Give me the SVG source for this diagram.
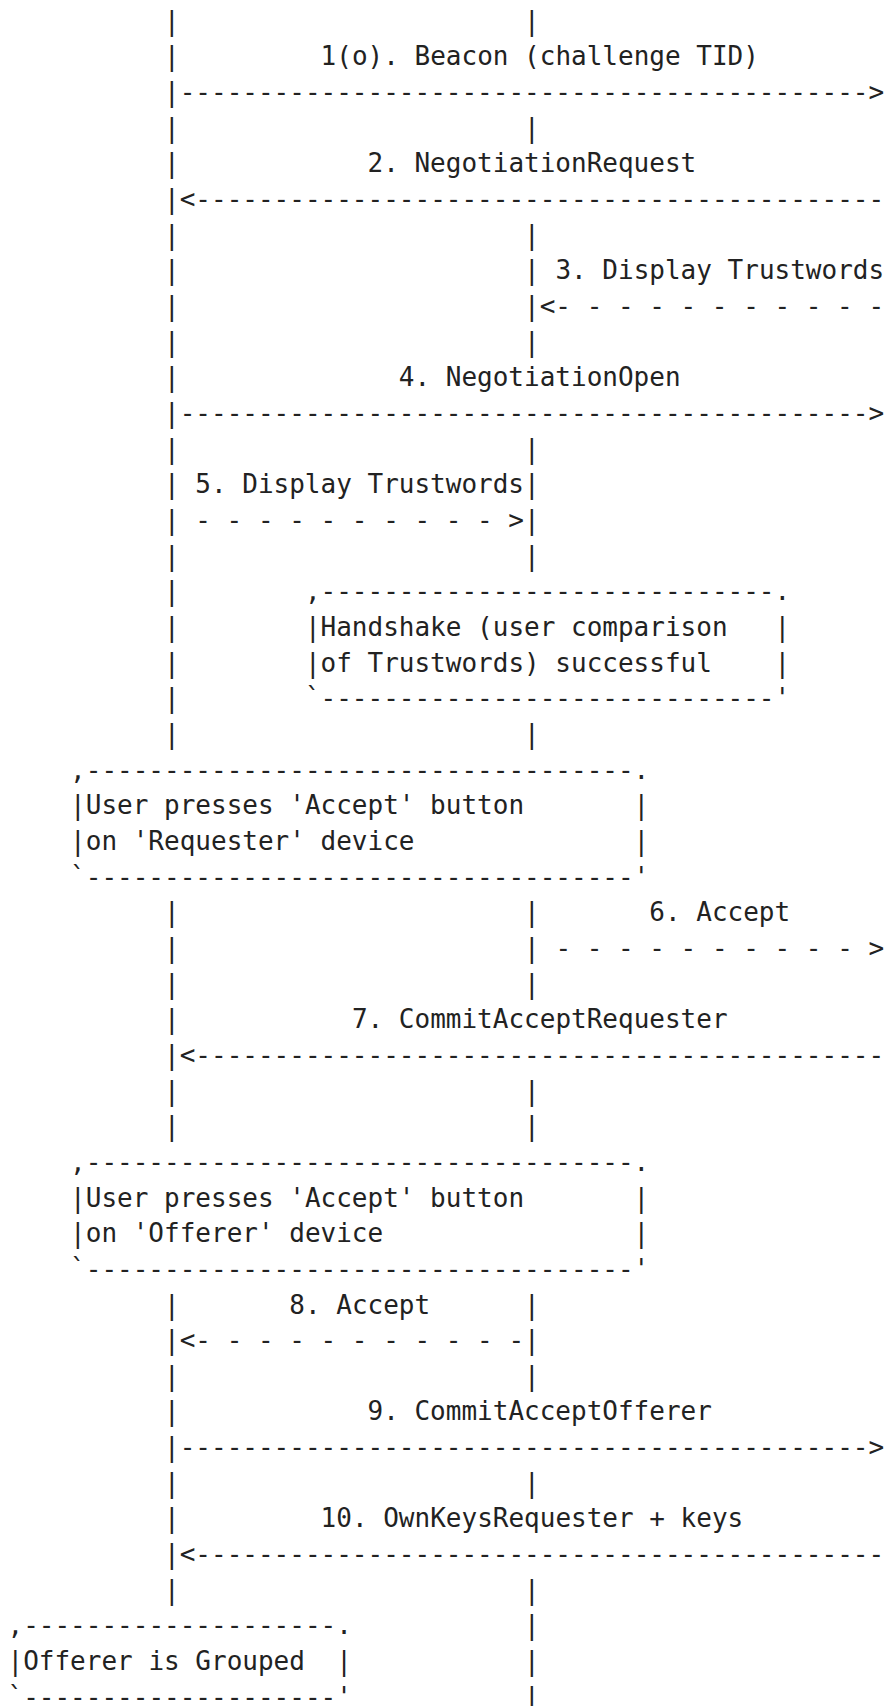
<svg xmlns="http://www.w3.org/2000/svg" width="885" height="1706" viewBox="0 0 885 1706" xml:space="preserve">
  <style>
    text { font-family: "DejaVu Sans Mono", "Liberation Mono", monospace; font-size: 26px; fill: #222; white-space: pre; }
  </style>
  <rect width="885" height="1706" fill="#fff"/>

  <!-- Requester lifeline (column 10) -->
  <g id="lifeline-requester">
    <text x="164.0" y="29.7">|</text>
    <text x="164.0" y="65.4">|</text>
    <text x="164.0" y="101.0">|</text>
    <text x="164.0" y="136.7">|</text>
    <text x="164.0" y="172.3">|</text>
    <text x="164.0" y="208.0">|</text>
    <text x="164.0" y="243.7">|</text>
    <text x="164.0" y="279.3">|</text>
    <text x="164.0" y="315.0">|</text>
    <text x="164.0" y="350.6">|</text>
    <text x="164.0" y="386.3">|</text>
    <text x="164.0" y="422.0">|</text>
    <text x="164.0" y="457.6">|</text>
    <text x="164.0" y="493.3">|</text>
    <text x="164.0" y="528.9">|</text>
    <text x="164.0" y="564.6">|</text>
    <text x="164.0" y="600.3">|</text>
    <text x="164.0" y="635.9">|</text>
    <text x="164.0" y="671.6">|</text>
    <text x="164.0" y="707.2">|</text>
    <text x="164.0" y="742.9">|</text>
    <text x="164.0" y="921.2">|</text>
    <text x="164.0" y="956.9">|</text>
    <text x="164.0" y="992.5">|</text>
    <text x="164.0" y="1028.2">|</text>
    <text x="164.0" y="1063.8">|</text>
    <text x="164.0" y="1099.5">|</text>
    <text x="164.0" y="1135.2">|</text>
    <text x="164.0" y="1313.5">|</text>
    <text x="164.0" y="1349.1">|</text>
    <text x="164.0" y="1384.8">|</text>
    <text x="164.0" y="1420.4">|</text>
    <text x="164.0" y="1456.1">|</text>
    <text x="164.0" y="1491.8">|</text>
    <text x="164.0" y="1527.4">|</text>
    <text x="164.0" y="1563.1">|</text>
    <text x="164.0" y="1598.7">|</text>
  </g>

  <!-- Offerer lifeline (column 33) -->
  <g id="lifeline-offerer">
    <text x="524.1" y="29.7">|</text>
    <text x="524.1" y="136.7">|</text>
    <text x="524.1" y="243.7">|</text>
    <text x="524.1" y="279.3">|</text>
    <text x="524.1" y="315.0">|</text>
    <text x="524.1" y="350.6">|</text>
    <text x="524.1" y="457.6">|</text>
    <text x="524.1" y="493.3">|</text>
    <text x="524.1" y="528.9">|</text>
    <text x="524.1" y="564.6">|</text>
    <text x="524.1" y="742.9">|</text>
    <text x="524.1" y="921.2">|</text>
    <text x="524.1" y="956.9">|</text>
    <text x="524.1" y="992.5">|</text>
    <text x="524.1" y="1099.5">|</text>
    <text x="524.1" y="1135.2">|</text>
    <text x="524.1" y="1313.5">|</text>
    <text x="524.1" y="1349.1">|</text>
    <text x="524.1" y="1384.8">|</text>
    <text x="524.1" y="1491.8">|</text>
    <text x="524.1" y="1598.7">|</text>
    <text x="524.1" y="1634.4">|</text>
    <text x="524.1" y="1670.1">|</text>
    <text x="524.1" y="1705.7">|</text>
  </g>

  <!-- Messages: labels and dashed arrows -->
  <g id="connectors">
    <g id="msg-1">
      <text x="320.6" y="65.4">1(o). Beacon (challenge TID)</text>
      <text x="179.7" y="101.0">--------------------------------------------&gt;</text>
    </g>
    <g id="msg-2">
      <text x="367.5" y="172.3">2. NegotiationRequest</text>
      <text x="179.7" y="208.0">&lt;--------------------------------------------</text>
    </g>
    <g id="msg-3">
      <text x="555.4" y="279.3">3. Display Trustwords</text>
      <text x="539.7" y="315.0">&lt;- - - - - - - - - - -</text>
    </g>
    <g id="msg-4">
      <text x="398.8" y="386.3">4. NegotiationOpen</text>
      <text x="179.7" y="422.0">--------------------------------------------&gt;</text>
    </g>
    <g id="msg-5">
      <text x="195.3" y="493.3">5. Display Trustwords</text>
      <text x="195.3" y="528.9">- - - - - - - - - - &gt;</text>
    </g>
    <g id="msg-6">
      <text x="649.3" y="921.2">6. Accept</text>
      <text x="555.4" y="956.9">- - - - - - - - - - &gt;</text>
    </g>
    <g id="msg-7">
      <text x="351.9" y="1028.2">7. CommitAcceptRequester</text>
      <text x="179.7" y="1063.8">&lt;--------------------------------------------</text>
    </g>
    <g id="msg-8">
      <text x="289.3" y="1313.5">8. Accept</text>
      <text x="179.7" y="1349.1">&lt;- - - - - - - - - - -</text>
    </g>
    <g id="msg-9">
      <text x="367.5" y="1420.4">9. CommitAcceptOfferer</text>
      <text x="179.7" y="1456.1">--------------------------------------------&gt;</text>
    </g>
    <g id="msg-10">
      <text x="320.6" y="1527.4">10. OwnKeysRequester + keys</text>
      <text x="179.7" y="1563.1">&lt;--------------------------------------------</text>
    </g>
  </g>

  <!-- Notes -->
  <g id="note-handshake">
    <text x="304.9" y="600.3">,-----------------------------.</text>
    <text x="304.9" y="635.9">|Handshake (user comparison   |</text>
    <text x="304.9" y="671.6">|of Trustwords) successful    |</text>
    <text x="304.9" y="707.2">`-----------------------------'</text>
  </g>

  <g id="note-accept-requester">
    <text x="70.1" y="778.6">,-----------------------------------.</text>
    <text x="70.1" y="814.2">|User presses 'Accept' button       |</text>
    <text x="70.1" y="849.9">|on 'Requester' device              |</text>
    <text x="70.1" y="885.5">`-----------------------------------'</text>
  </g>

  <g id="note-accept-offerer">
    <text x="70.1" y="1170.8">,-----------------------------------.</text>
    <text x="70.1" y="1206.5">|User presses 'Accept' button       |</text>
    <text x="70.1" y="1242.1">|on 'Offerer' device                |</text>
    <text x="70.1" y="1277.8">`-----------------------------------'</text>
  </g>

  <g id="note-grouped">
    <text x="7.5" y="1634.4">,--------------------.</text>
    <text x="7.5" y="1670.1">|Offerer is Grouped  |</text>
    <text x="7.5" y="1705.7">`--------------------'</text>
  </g>
</svg>
